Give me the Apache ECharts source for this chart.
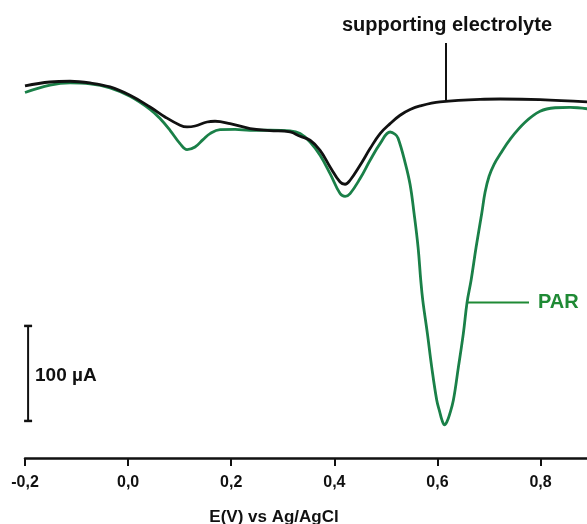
<!DOCTYPE html>
<html>
<head>
<meta charset="utf-8">
<script src="https://cdn.jsdelivr.net/npm/echarts@6/dist/echarts.min.js"></script>
<style>html,body{margin:0;padding:0;background:#fff}#c{width:587px;height:524px}</style>
</head>
<body>
<div id="c"></div>
<script>
// Potential E (V vs Ag/AgCl) and current (µA, arbitrary offset)
const electrolyteE = [-0.200,-0.1515,-0.1127,-0.0739,-0.0351,0.0037,0.0425,0.0716,0.1007,0.1143,0.1298,0.1531,0.1686,0.1977,0.2365,0.2753,0.3141,0.3335,0.3529,0.3723,0.3917,0.4111,0.4208,0.4305,0.4499,0.4693,0.4887,0.5081,0.5275,0.5469,0.5662,0.6050,0.6826,0.7214,0.7990,0.8902];
const electrolyteI = [4.5,8.7,9.5,7.7,3.5,-5.3,-17.6,-28.1,-36.8,-38.6,-37.6,-33.4,-32.6,-35.1,-40.3,-42.4,-43.9,-48.4,-52.6,-63.2,-80.7,-96.5,-98.9,-94.7,-78.9,-61.4,-45.6,-35.1,-26.3,-20.3,-16.5,-12.3,-9.5,-9.2,-9.8,-12.3];

const parE = [-0.200,-0.1515,-0.1127,-0.0739,-0.0351,0.0037,0.0425,0.0619,0.0813,0.1007,0.1143,0.1298,0.1453,0.1589,0.1783,0.2074,0.2365,0.2753,0.3141,0.3335,0.3529,0.3723,0.3917,0.4111,0.4208,0.4305,0.4499,0.4693,0.4887,0.5081,0.5178,0.5236,0.5371,0.5468,0.5546,0.5624,0.5676,0.5715,0.5804,0.5889,0.5986,0.6041,0.6089,0.6138,0.6186,0.6235,0.6308,0.6405,0.6502,0.6574,0.6652,0.6749,0.6859,0.6923,0.7001,0.7098,0.7214,0.7408,0.7699,0.7990,0.8281,0.8572,0.8902];
const parI = [-2.4,5.3,7.7,6.8,2.6,-6.3,-20,-29.8,-42.1,-56.1,-62.4,-59.7,-51.9,-45.6,-41.4,-41.1,-42.1,-42.1,-42.8,-45.6,-54.4,-68.4,-87.7,-108.7,-111.6,-108.7,-92.9,-73.7,-56.1,-43.9,-46.3,-50.5,-75.8,-98.9,-129.5,-165.3,-200,-221.1,-255.8,-291.6,-326.3,-337.9,-347.4,-352.1,-348.4,-341.1,-326.3,-291.6,-255.8,-223.2,-200,-165.3,-129.5,-107.4,-90.5,-77.9,-67.4,-51.6,-33.7,-22.1,-18.4,-17.9,-19.5];

const tickValues = [-0.2, 0.0, 0.2, 0.4, 0.6, 0.8];
const scaleBarE = -0.194;
const scaleBarI = [-348, -248];   // 100 µA
const scaleBarLabel = '100 \u00B5A';
const xTitle = 'E(V) vs Ag/AgCl';
const labelElectrolyte = 'supporting electrolyte';
const labelPAR = 'PAR';

const zip = (a, b) => a.map((v, i) => [v, b[i]]);
const FONT = 'Arial, "Liberation Sans", sans-serif';
const BLACK = '#111111';
const GREEN = '#1a8048';
const GREEN_T = '#1f8a35';

const chart = echarts.init(document.getElementById('c'));
chart.setOption({
  animation: false,
  backgroundColor: '#ffffff',
  grid: { left: 25, right: 0, top: 0, bottom: 66, containLabel: false },
  xAxis: {
    type: 'value', min: -0.2, max: 0.89, interval: 0.2,
    axisLine: { show: true, onZero: false, lineStyle: { color: BLACK, width: 2.5 } },
    axisTick: { show: true, length: 8, lineStyle: { color: BLACK, width: 2 }, customValues: tickValues },
    axisLabel: {
      customValues: tickValues, margin: 17, color: BLACK, fontFamily: FONT, fontWeight: 'bold', fontSize: 16,
      formatter: v => v.toFixed(1).replace('.', ',')
    },
    splitLine: { show: false }
  },
  yAxis: { type: 'value', min: -387, max: 95, show: false, splitLine: { show: false } },
  series: [
    { type: 'line', name: 'PAR', data: zip(parE, parI), smooth: 0.4, showSymbol: false,
      lineStyle: { color: GREEN, width: 2.8 }, z: 2 },
    { type: 'line', name: 'supporting electrolyte', data: zip(electrolyteE, electrolyteI), smooth: 0.4, showSymbol: false,
      lineStyle: { color: BLACK, width: 2.8 }, z: 3 },
    { type: 'line', name: 'scale', data: scaleBarI.map(v => [scaleBarE, v]), showSymbol: true,
      symbol: 'rect', symbolSize: [8, 2.5], itemStyle: { color: BLACK },
      lineStyle: { color: BLACK, width: 2 }, z: 4 }
  ],
  graphic: [
    { type: 'text', left: 35, top: 366, style: { text: scaleBarLabel, fill: BLACK, font: 'bold 19px ' + FONT } },
    { type: 'text', x: 447, y: 25, style: { text: labelElectrolyte, fill: BLACK, font: 'bold 20px ' + FONT, align: 'center', verticalAlign: 'middle' } },
    { type: 'line', shape: { x1: 446, y1: 43, x2: 446, y2: 100 }, style: { stroke: BLACK, lineWidth: 2 } },
    { type: 'line', shape: { x1: 467, y1: 302.5, x2: 529, y2: 302.5 }, style: { stroke: GREEN_T, lineWidth: 2.2 } },
    { type: 'text', x: 538, y: 302, style: { text: labelPAR, fill: GREEN_T, font: 'bold 20px ' + FONT, align: 'left', verticalAlign: 'middle' } },
    { type: 'text', x: 274, y: 517, style: { text: xTitle, fill: BLACK, font: 'bold 17px ' + FONT, align: 'center', verticalAlign: 'middle' } }
  ]
});
</script>
</body>
</html>
